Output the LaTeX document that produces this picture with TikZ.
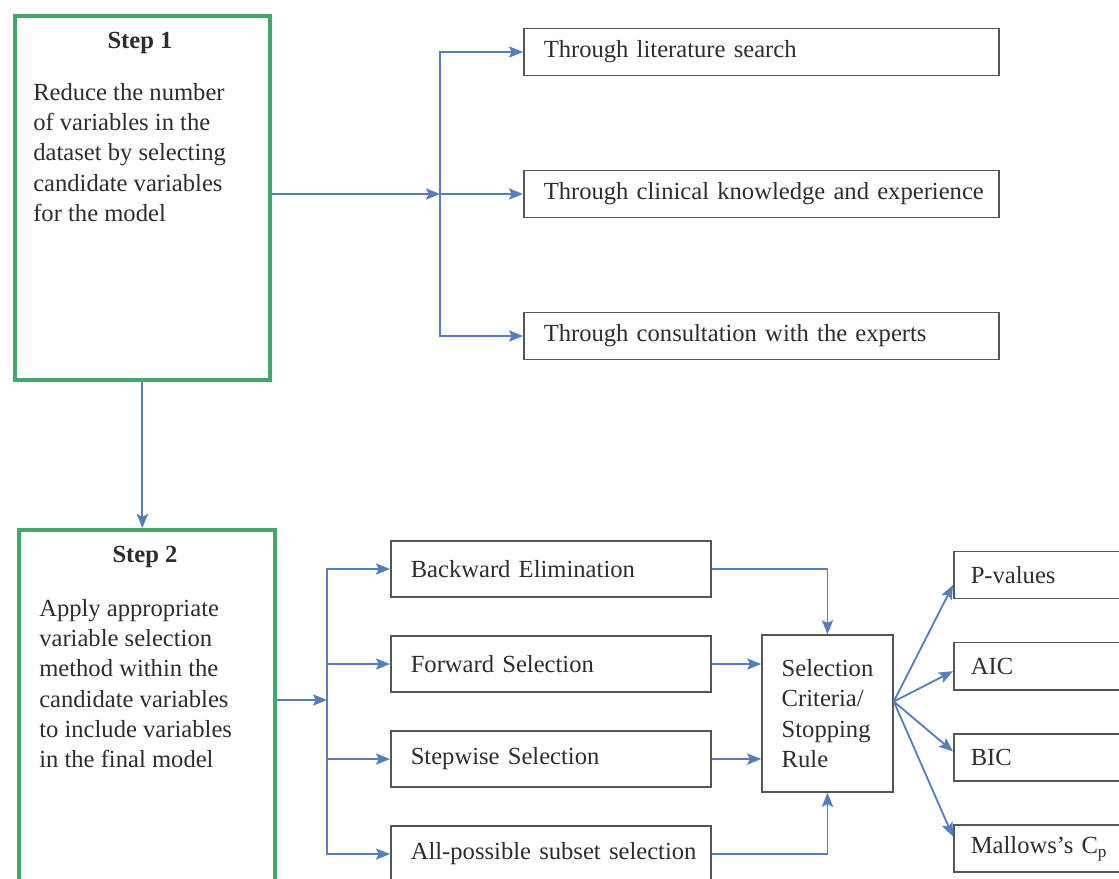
\documentclass[tikz,border=0pt]{standalone}
\usepackage{fontspec}
\setmainfont{Liberation Serif}
\usetikzlibrary{positioning, arrows.meta, calc}

\definecolor{stepgreen}{RGB}{64,168,104}
\definecolor{flowblue}{RGB}{84,126,190}
\definecolor{boxgray}{RGB}{85,85,85}
\definecolor{txtgray}{RGB}{45,45,45}

\tikzset{
    stepbox/.style={draw=stepgreen, line width=2.6pt, anchor=north west},
    steptitle/.style={font=\fontsize{17.5}{21.5}\selectfont\bfseries},
    optbox/.style={draw=boxgray, line width=1.1pt, anchor=west, align=left, inner xsep=0.5cm},
    flow/.style={draw=flowblue, line width=1.3pt}
}

\begin{document}
\begin{tikzpicture}[x=0.025cm, y=-0.025cm, >={Stealth[length=10pt,width=8pt,inset=2pt]},
    font=\fontsize{17.5}{21.5}\selectfont, text=txtgray, node distance=2.375cm, on grid]
    \useasboundingbox (0,0) rectangle (1119,879);

    % Step 1
    \node[stepbox, minimum width=6.375cm, minimum height=9.1cm] (step1) at (13,14) {};
    \node[steptitle] (s1title) at (140,43) {Step 1};
    \node[anchor=north west, align=left, inner sep=0pt] (s1text) at (33,83)
        {Reduce the number\\of variables in the\\dataset by selecting\\candidate variables\\for the model};

    % ways to pick candidates
    \node[optbox, text width=10.875cm, minimum height=1.175cm] (lit) at (523,52) {Through literature search};
    \node[optbox, text width=10.875cm, minimum height=1.175cm] (clin) at (523,194) {\mbox{Through clinical knowledge and experience}};
    \node[optbox, text width=10.875cm, minimum height=1.175cm] (cons) at (523,336) {Through consultation with the experts};

    % Step 2
    \node[stepbox, minimum width=6.4cm, minimum height=9.5cm] (step2) at (17,528) {};
    \node[steptitle] (s2title) at (145,557) {Step 2};
    \node[anchor=north west, align=left, inner sep=0pt] (s2text) at (39,599)
        {Apply appropriate\\variable selection\\method within the\\candidate variables\\to include variables\\in the final model};

    % selection methods
    \node[optbox, text width=7cm, minimum height=1.4cm] (back) at (390,569) {Backward Elimination};
    \node[optbox, text width=7cm, minimum height=1.4cm, below=of back] (fwd) {Forward Selection};
    \node[optbox, text width=7cm, minimum height=1.4cm, below=of fwd] (stepw) {Stepwise Selection};
    \node[optbox, text width=7cm, minimum height=1.4cm, below=of stepw] (allsub) {\mbox{All-possible subset selection}};

    \node[draw=boxgray, line width=1.1pt, align=left, minimum width=3.275cm, minimum height=3.925cm] (crit) at (827.5,713.5)
        {Selection\\Criteria/\\Stopping\\Rule};

    % criteria
    \node[optbox, inner xsep=0.425cm, text width=3.825cm, minimum height=1.175cm] (pval) at (953,575) {P-values};
    \node[optbox, inner xsep=0.425cm, text width=3.825cm, minimum height=1.175cm, below=2.28cm of pval] (aic) {AIC};
    \node[optbox, inner xsep=0.425cm, text width=3.825cm, minimum height=1.175cm, below=2.28cm of aic] (bic) {BIC};
    \node[optbox, inner xsep=0.425cm, text width=3.825cm, minimum height=1.175cm, below=2.28cm of bic] (cp) {Mallows's C\textsubscript{p}};

    % Step 1 arrows
    \coordinate (bus1) at (440,194);
    \draw[flow, ->] (step1.east |- bus1) -- (bus1);
    \draw[flow, ->] (bus1) |- (lit);
    \draw[flow, ->] (bus1) -- (clin);
    \draw[flow, ->] (bus1) |- (cons);
    \draw[flow, ->] (step1.south) -- (step1.south |- step2.north);

    % Step 2 arrows
    \coordinate (bus2) at (327,700);
    \draw[flow, ->] (step2.east |- bus2) -- (bus2);
    \foreach \m in {back, fwd, stepw, allsub}
        \draw[flow, ->] (bus2) |- (\m);

    \draw[flow, ->] (back) -| (crit);
    \draw[flow, ->] (fwd) -- (fwd -| crit.west);
    \draw[flow, ->] (stepw) -- (stepw -| crit.west);
    \draw[flow, ->] (allsub) -| (crit);

    \coordinate (fan) at ($(crit.east)+(0,-12)$);
    \draw[flow, ->] (fan) -- ($(pval.west)+(0,10)$);
    \draw[flow, ->] (fan) -- ($(aic.west)+(0,5)$);
    \draw[flow, ->] (fan) -- ($(bic.west)+(0,-6)$);
    \draw[flow, ->] (fan) -- ($(cp.west)+(0,-12)$);
\end{tikzpicture}
\end{document}
